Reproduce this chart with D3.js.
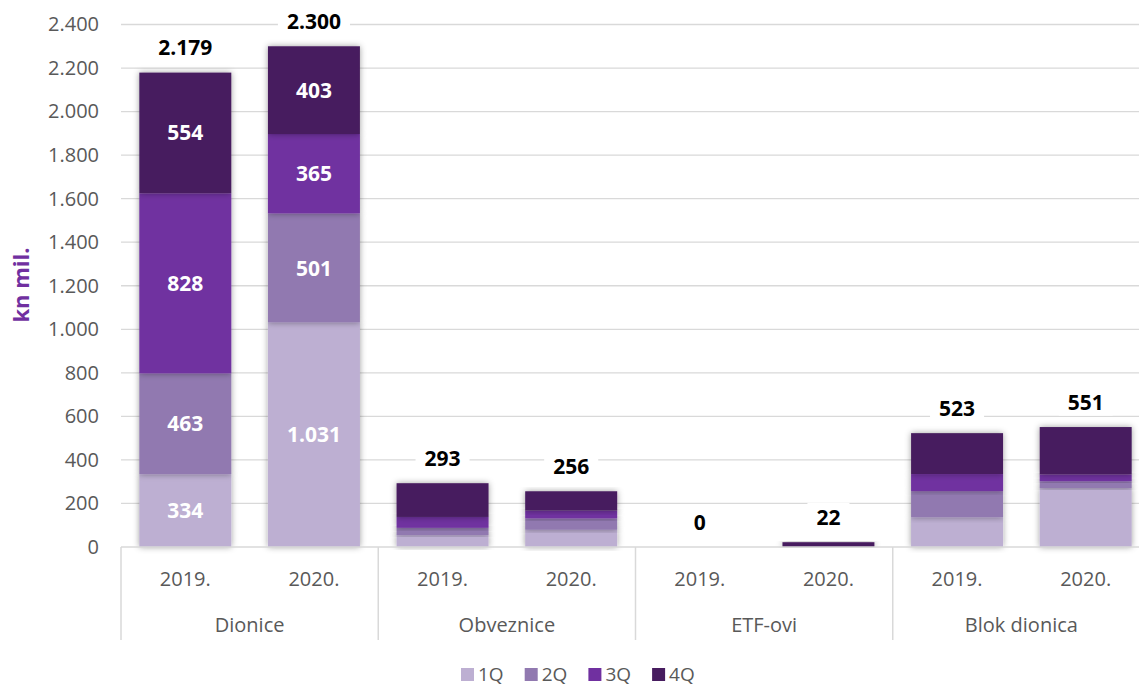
<!DOCTYPE html>
<html lang="hr">
<head>
<meta charset="UTF-8">
<title>Promet po kvartalima</title>
<script src="https://cdnjs.cloudflare.com/ajax/libs/d3/7.8.5/d3.min.js"></script>
<style>
  body { margin: 0; background: #fff; }
  svg { display: block; font-family: "Open Sans", "Noto Sans", sans-serif; }
</style>
</head>
<body>
<div id="chart"></div>
<script>
// data
var groups = ["Dionice", "Obveznice", "ETF-ovi", "Blok dionica"];
var years = ["2019.", "2020."];
var quarters = ["1Q", "2Q", "3Q", "4Q"];
var q1 = [334, 1031, 55, 79, 0, 0, 136, 271];
var q2 = [463, 501, 33, 52, 0, 0, 121, 31];
var q3 = [828, 365, 50, 36, 0, 0, 78, 31];
var q4 = [554, 403, 155, 89, 0, 22, 188, 218];
var totals = [2179, 2300, 293, 256, 0, 22, 523, 551];
var yTicks = [0, 200, 400, 600, 800, 1000, 1200, 1400, 1600, 1800, 2000, 2200, 2400];
var colors = ["#bdafd2", "#9179b0", "#7030a0", "#471c5f"];

var W = 1139, H = 687;
var plotL = 121, plotR = 1150, plotT = 24.5, plotB = 547;

var hr = d3.formatLocale({decimal: ",", thousands: ".", grouping: [3], currency: ["", " kn"]});
var fmt = hr.format(",d");

// one row per bar
var rows = [];
groups.forEach(function(g, gi) {
  years.forEach(function(y, yi) {
    var i = gi * years.length + yi;
    rows.push({group: g, year: y, "1Q": q1[i], "2Q": q2[i], "3Q": q3[i], "4Q": q4[i], total: totals[i]});
  });
});

var svg = d3.select("#chart").append("svg").attr("width", W).attr("height", H);

var defs = svg.append("defs");
var f = defs.append("filter").attr("id", "shadow")
  .attr("x", "-20%").attr("y", "-20%").attr("width", "140%").attr("height", "140%");
f.append("feDropShadow").attr("dx", 0).attr("dy", 0).attr("stdDeviation", 3)
  .attr("flood-color", "#000").attr("flood-opacity", 0.38);

var x0 = d3.scaleBand().domain(groups).range([plotL, plotR]);
var x1 = d3.scaleBand().domain(years).range([0, x0.bandwidth()])
  .paddingInner(0.285).paddingOuter(0.1425);
var y = d3.scaleLinear().domain([0, 2400]).range([plotB, plotT]);
var color = d3.scaleOrdinal().domain(quarters).range(colors);

// gridlines
svg.append("g").selectAll("line").data(yTicks.slice(1)).enter().append("line")
  .attr("x1", plotL).attr("x2", plotR)
  .attr("y1", function(d) { return y(d); }).attr("y2", function(d) { return y(d); })
  .attr("stroke", "#d9d9d9").attr("stroke-width", 1.3);

// y axis labels
var yAxis = d3.axisLeft(y).tickValues(yTicks).tickFormat(fmt).tickSize(0).tickPadding(22);
var ya = svg.append("g").attr("transform", "translate(" + plotL + ",0)").call(yAxis);
ya.select(".domain").remove();
ya.selectAll("text").attr("fill", "#595959").style("font-size", "20px")
  .style("font-family", "'Open Sans', sans-serif");

svg.append("text")
  .attr("transform", "translate(29,285) rotate(-90)")
  .attr("text-anchor", "middle")
  .attr("fill", "#7030a0").style("font-size", "22px").style("font-weight", "bold")
  .text("kn mil.");

// stacked bars
var stack = d3.stack().keys(quarters);
var series = stack(rows);

var barG = svg.append("g");
series.forEach(function(s) {
  barG.selectAll(null).data(s).enter().append("rect")
    .attr("x", function(d) { return x0(d.data.group) + x1(d.data.year); })
    .attr("width", x1.bandwidth())
    .attr("y", function(d) { return y(d[1]); })
    .attr("height", function(d) { return y(d[0]) - y(d[1]); })
    .attr("fill", color(s.key))
    .attr("filter", "url(#shadow)");
});

// segment labels (only the big ones)
series.forEach(function(s) {
  svg.append("g").selectAll("text")
    .data(s.filter(function(d) { return d[1] - d[0] >= 300; }))
    .enter().append("text")
    .attr("x", function(d) { return x0(d.data.group) + x1(d.data.year) + x1.bandwidth() / 2; })
    .attr("y", function(d) { return (y(d[0]) + y(d[1])) / 2; })
    .attr("dy", "0.36em")
    .attr("text-anchor", "middle")
    .attr("fill", "#fff").style("font-size", "21px").style("font-weight", "bold")
    .text(function(d) { return fmt(d[1] - d[0]); });
});

// total labels with white boxes over the gridlines
var tot = svg.append("g").selectAll("g").data(rows).enter().append("g")
  .attr("transform", function(d) {
    return "translate(" + (x0(d.group) + x1(d.year) + x1.bandwidth() / 2) + "," + (y(d.total) - 25) + ")";
  });
tot.append("text")
  .attr("dy", "0.36em").attr("text-anchor", "middle")
  .attr("fill", "#000").style("font-size", "21px").style("font-weight", "bold")
  .text(function(d) { return fmt(d.total); });
tot.each(function() {
  var g = d3.select(this);
  var bb = g.select("text").node().getBBox();
  g.insert("rect", "text")
    .attr("x", bb.x - 9).attr("y", bb.y).attr("width", bb.width + 18).attr("height", bb.height)
    .attr("fill", "#fff");
});

// category axis
var ax = svg.append("g");
ax.append("line").attr("x1", plotL).attr("x2", plotR).attr("y1", plotB).attr("y2", plotB)
  .attr("stroke", "#d9d9d9").attr("stroke-width", 1.5);
ax.selectAll(".div").data(groups.concat(["end"])).enter().append("line")
  .attr("x1", function(d, i) { return plotL + i * x0.bandwidth(); })
  .attr("x2", function(d, i) { return plotL + i * x0.bandwidth(); })
  .attr("y1", plotB).attr("y2", 640)
  .attr("stroke", "#d9d9d9").attr("stroke-width", 1.5);

ax.selectAll(".yr").data(rows).enter().append("text")
  .attr("x", function(d) { return x0(d.group) + x1(d.year) + x1.bandwidth() / 2; })
  .attr("y", 579).attr("dy", "0.36em").attr("text-anchor", "middle")
  .attr("fill", "#595959").style("font-size", "20px")
  .text(function(d) { return d.year; });

ax.selectAll(".grp").data(groups).enter().append("text")
  .attr("x", function(d) { return x0(d) + x0.bandwidth() / 2; })
  .attr("y", 625).attr("dy", "0.36em").attr("text-anchor", "middle")
  .attr("fill", "#595959").style("font-size", "20px")
  .text(function(d) { return d; });

// legend
var leg = svg.append("g").attr("transform", "translate(461,675)");
var li = leg.selectAll("g").data(quarters).enter().append("g")
  .attr("transform", function(d, i) { return "translate(" + (i * 63.7) + ",0)"; });
li.append("rect").attr("x", 0).attr("y", -7).attr("width", 13).attr("height", 13)
  .attr("fill", function(d) { return color(d); });
li.append("text").attr("x", 17).attr("dy", "0.34em")
  .attr("fill", "#595959").style("font-size", "19px")
  .text(function(d) { return d; });
</script>
</body>
</html>
